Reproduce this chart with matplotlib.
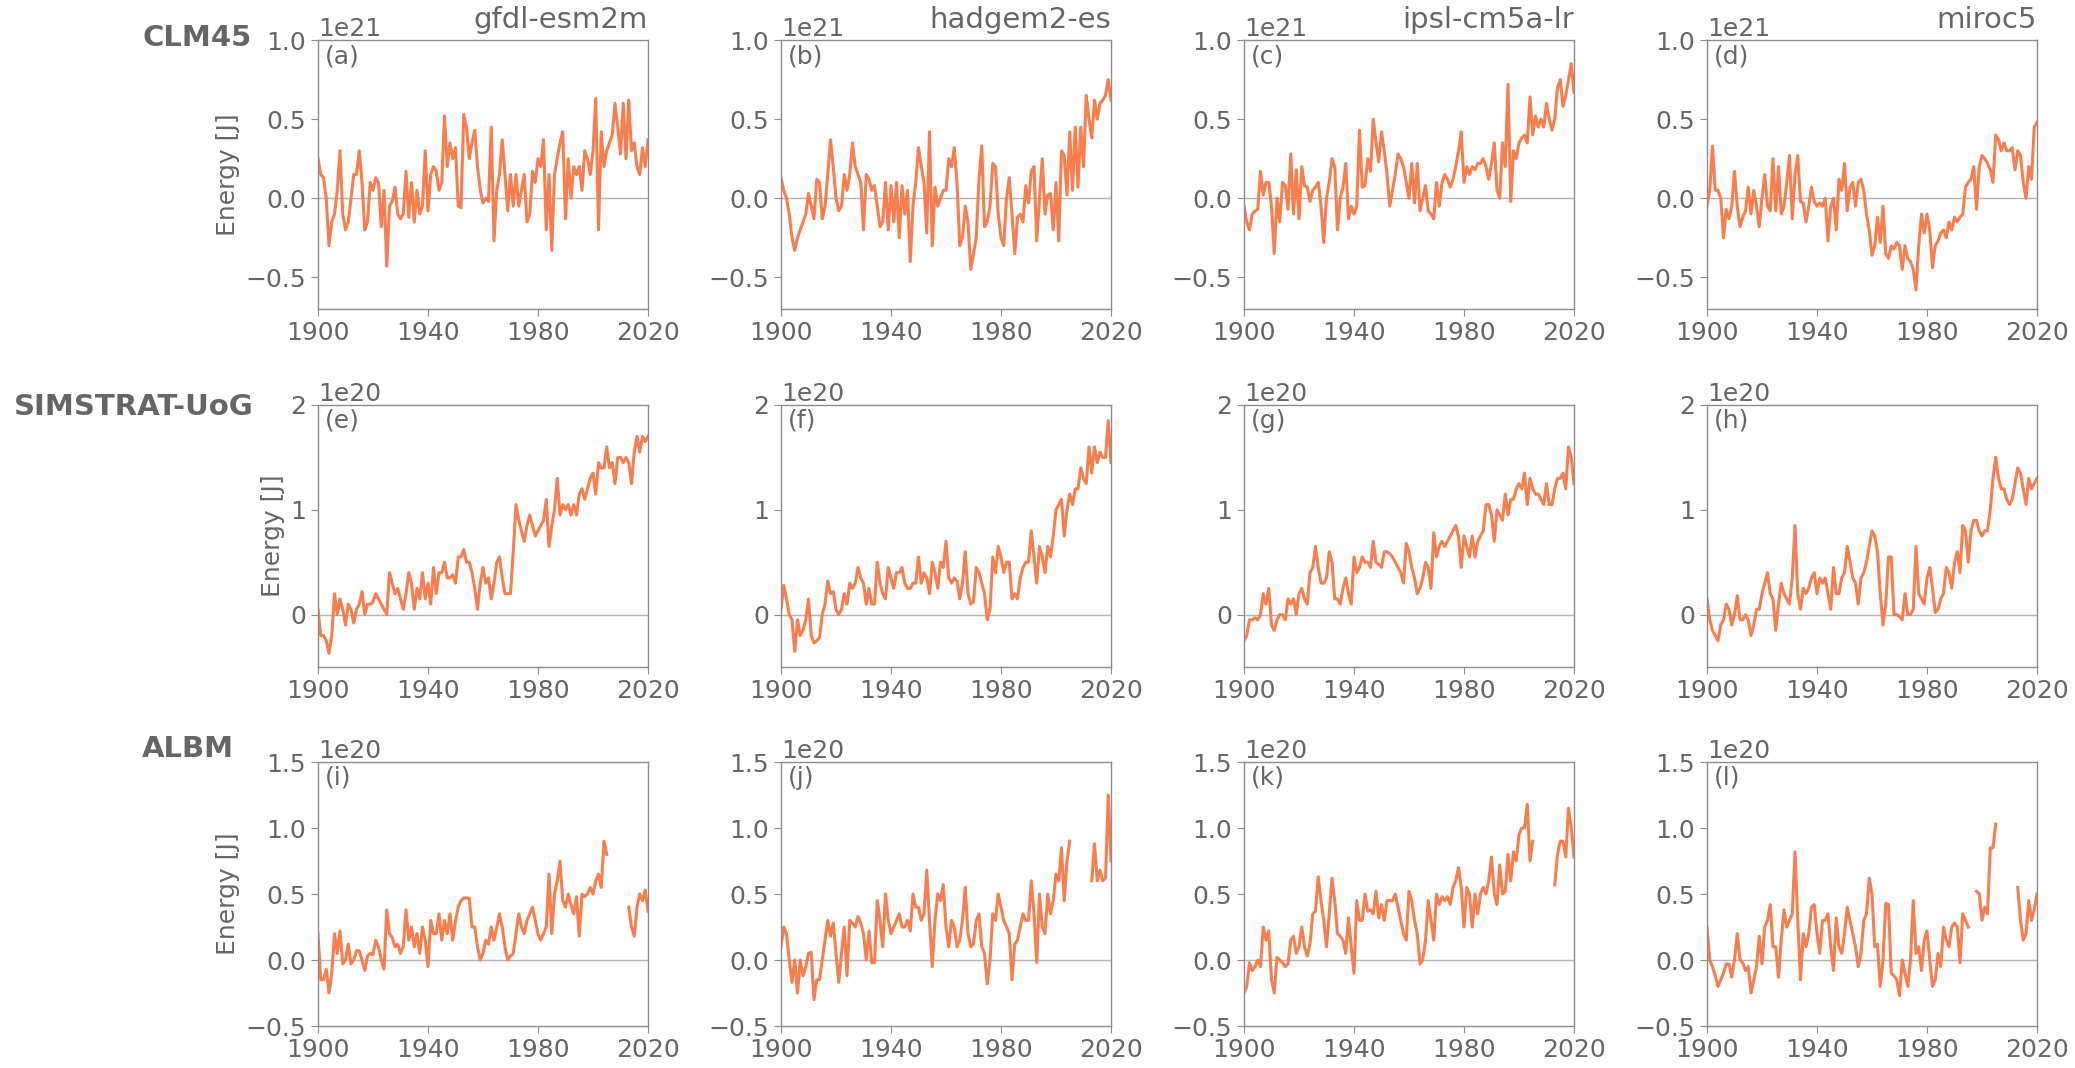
import numpy as np
import matplotlib
matplotlib.use("Agg")
import matplotlib.pyplot as plt
from matplotlib.ticker import FixedLocator

nan = np.nan
years = list(range(1900, 2021))
gcms = ["gfdl-esm2m", "hadgem2-es", "ipsl-cm5a-lr", "miroc5"]
models = ["CLM45", "SIMSTRAT-UoG", "ALBM"]
panel_letters = list("abcdefghijkl")
scales = [1e21, 1e20, 1e20]

# ---------- CLM45 (x1e21 J) ----------
clm45_gfdl = [0.25, 0.15, 0.13, 0.0, -0.3, -0.15, -0.1, 0.05, 0.3, -0.1,
              -0.2, -0.15, 0.0, 0.15, 0.15, 0.3, 0.1, -0.2, -0.15, 0.1,
              0.05, 0.13, 0.1, -0.18, 0.05, -0.43, -0.05, -0.02, 0.07, -0.1,
              -0.13, -0.1, 0.17, -0.12, 0.1, -0.15, 0.05, -0.1, -0.05, 0.3,
              -0.08, 0.15, 0.2, 0.17, 0.05, 0.1, 0.52, 0.2, 0.35, 0.25,
              0.32, -0.05, -0.06, 0.53, 0.45, 0.25, 0.35, 0.43, 0.2, 0.05,
              -0.03, 0.0, -0.02, 0.45, -0.27, 0.05, 0.15, 0.37, 0.15, -0.08,
              0.15, -0.05, 0.15, -0.05, 0.05, 0.15, -0.15, -0.1, 0.17, 0.1,
              0.25, 0.2, 0.37, -0.2, 0.15, -0.33, 0.15, 0.25, 0.35, 0.42,
              -0.13, 0.25, 0.0, 0.2, 0.15, 0.2, 0.05, 0.3, 0.25, 0.15,
              0.3, 0.63, -0.2, 0.42, 0.2, 0.3, 0.35, 0.4, 0.6, 0.45,
              0.28, 0.6, 0.25, 0.62, 0.3, 0.35, 0.2, 0.15, 0.32, 0.2,
              0.37]
clm45_hadgem = [0.13, 0.05, 0.0, -0.1, -0.25, -0.33, -0.25, -0.2, -0.15, -0.1,
                0.03, -0.05, -0.13, 0.12, 0.1, -0.13, -0.05, 0.15, 0.37, 0.2,
                0.0, -0.08, -0.05, 0.15, 0.05, 0.15, 0.35, 0.2, 0.15, 0.1,
                -0.2, 0.15, 0.12, 0.05, 0.08, -0.05, -0.18, -0.15, 0.1, -0.2,
                0.08, -0.15, 0.1, -0.25, 0.08, -0.1, 0.05, -0.4, -0.05, 0.1,
                0.32, 0.2, 0.1, -0.22, 0.42, -0.3, 0.07, -0.05, 0.0, 0.05,
                0.05, 0.25, 0.2, 0.32, 0.1, -0.3, -0.25, -0.05, -0.15, -0.45,
                -0.35, -0.25, 0.12, 0.33, -0.18, -0.15, -0.05, 0.22, 0.2, -0.1,
                -0.25, -0.3, 0.0, 0.13, -0.1, -0.35, -0.12, -0.1, -0.15, 0.08,
                -0.03, 0.17, 0.2, -0.27, 0.0, 0.25, -0.1, 0.02, 0.03, -0.2,
                0.1, -0.27, 0.3, 0.27, 0.02, 0.42, 0.05, 0.45, 0.07, 0.45,
                0.2, 0.65, 0.5, 0.38, 0.62, 0.5, 0.6, 0.62, 0.65, 0.75,
                0.62]
clm45_ipsl = [-0.05, -0.15, -0.2, -0.1, -0.08, -0.07, 0.17, 0.02, 0.1, 0.1,
              -0.05, -0.35, 0.0, -0.15, 0.1, 0.08, -0.07, 0.28, -0.1, 0.18,
              -0.13, 0.2, 0.08, 0.07, -0.02, 0.05, 0.07, 0.1, -0.05, -0.28,
              0.0, 0.1, 0.25, 0.2, -0.2, 0.0, 0.07, 0.22, -0.13, -0.05,
              -0.1, -0.05, 0.43, 0.07, 0.08, 0.25, 0.17, 0.5, 0.35, 0.23,
              0.42, 0.3, 0.15, -0.05, 0.05, 0.15, 0.28, 0.25, 0.2, 0.1,
              0.0, 0.22, -0.03, 0.22, -0.08, 0.0, 0.08, -0.08, -0.1, -0.13,
              0.1, -0.05, 0.1, 0.15, 0.12, 0.07, 0.12, 0.2, 0.3, 0.42,
              0.1, 0.2, 0.15, 0.2, 0.18, 0.22, 0.22, 0.25, 0.2, 0.12,
              0.22, 0.35, 0.05, 0.0, 0.35, 0.2, 0.72, -0.02, 0.3, 0.25,
              0.35, 0.38, 0.4, 0.35, 0.64, 0.4, 0.52, 0.45, 0.5, 0.45,
              0.6, 0.5, 0.43, 0.5, 0.7, 0.75, 0.58, 0.65, 0.75, 0.85,
              0.67]
clm45_miroc = [-0.05, 0.05, 0.33, 0.05, 0.05, 0.0, -0.25, -0.07, -0.13, -0.05,
               0.17, -0.05, -0.18, -0.12, -0.08, 0.07, -0.1, 0.05, -0.05, -0.18,
               0.0, 0.15, -0.05, -0.08, 0.25, -0.08, 0.2, -0.1, -0.05, 0.1,
               0.27, -0.13, 0.15, 0.27, -0.02, -0.03, -0.15, -0.05, 0.07, -0.02,
               -0.05, -0.03, -0.05, 0.0, -0.27, -0.05, 0.0, -0.2, 0.12, 0.05,
               0.22, -0.08, 0.07, 0.1, -0.05, 0.1, 0.12, 0.05, -0.1, -0.2,
               -0.36, -0.3, -0.12, -0.28, -0.05, -0.35, -0.38, -0.3, -0.32, -0.28,
               -0.3, -0.45, -0.3, -0.38, -0.4, -0.45, -0.58, -0.3, -0.1, -0.22,
               -0.1, -0.2, -0.44, -0.3, -0.27, -0.22, -0.2, -0.25, -0.15, -0.2,
               -0.12, -0.15, -0.12, -0.1, 0.07, 0.1, 0.12, 0.2, -0.07, 0.2,
               0.27, 0.25, 0.22, 0.18, 0.1, 0.4, 0.37, 0.3, 0.35, 0.3,
               0.3, 0.32, 0.18, 0.3, 0.27, 0.1, 0.0, 0.2, 0.12, 0.45,
               0.48]

# ---------- SIMSTRAT-UoG (x1e20 J) ----------
simstrat_gfdl = [0.05, -0.2, -0.2, -0.25, -0.37, -0.2, 0.2, 0.0, 0.15, 0.05,
                 -0.1, 0.1, 0.05, -0.08, 0.05, 0.1, 0.22, 0.0, 0.1, 0.1,
                 0.12, 0.2, 0.15, 0.1, 0.05, 0.0, 0.4, 0.3, 0.2, 0.25,
                 0.15, 0.05, 0.2, 0.4, 0.3, 0.05, 0.25, 0.15, 0.4, 0.15,
                 0.3, 0.1, 0.45, 0.2, 0.4, 0.4, 0.5, 0.35, 0.35, 0.38,
                 0.3, 0.55, 0.55, 0.62, 0.5, 0.5, 0.4, 0.25, 0.05, 0.3,
                 0.45, 0.3, 0.35, 0.15, 0.3, 0.5, 0.55, 0.35, 0.2, 0.2,
                 0.2, 0.6, 1.05, 0.9, 0.8, 0.7, 0.85, 0.95, 0.85, 0.75,
                 0.8, 0.85, 0.9, 1.1, 0.65, 0.85, 1.0, 1.3, 0.95, 1.05,
                 1.0, 1.05, 0.95, 1.05, 0.95, 1.15, 1.2, 1.1, 1.2, 1.3,
                 1.35, 1.15, 1.45, 1.4, 1.4, 1.6, 1.4, 1.45, 1.25, 1.5,
                 1.5, 1.45, 1.5, 1.45, 1.25, 1.55, 1.7, 1.55, 1.7, 1.65,
                 1.7]
simstrat_hadgem = [0.05, 0.28, 0.15, 0.0, -0.05, -0.35, -0.05, -0.2, -0.15, -0.05,
                   0.15, -0.2, -0.27, -0.25, -0.22, 0.0, 0.1, 0.32, 0.2, 0.22,
                   0.05, 0.0, 0.05, 0.2, 0.1, 0.3, 0.25, 0.3, 0.45, 0.35,
                   0.3, 0.1, 0.25, 0.1, 0.1, 0.5, 0.3, 0.2, 0.15, 0.45,
                   0.35, 0.25, 0.4, 0.4, 0.45, 0.3, 0.25, 0.25, 0.3, 0.3,
                   0.55, 0.3, 0.4, 0.35, 0.2, 0.5, 0.4, 0.25, 0.5, 0.45,
                   0.7, 0.35, 0.3, 0.35, 0.32, 0.15, 0.3, 0.6, 0.2, 0.1,
                   0.12, 0.45, 0.4, 0.3, 0.2, -0.05, 0.05, 0.55, 0.4, 0.65,
                   0.55, 0.4, 0.5, 0.5, 0.15, 0.2, 0.15, 0.35, 0.45, 0.5,
                   0.5, 0.8, 0.55, 0.3, 0.65, 0.55, 0.4, 0.65, 0.55, 0.75,
                   1.0, 1.05, 1.1, 0.75, 1.0, 1.15, 1.05, 1.2, 1.2, 1.4,
                   1.3, 1.25, 1.6, 1.35, 1.6, 1.45, 1.55, 1.5, 1.5, 1.85,
                   1.45]
simstrat_ipsl = [-0.25, -0.2, -0.05, -0.05, -0.03, -0.05, 0.0, 0.2, 0.1, 0.25,
                 -0.1, -0.15, -0.05, 0.0, 0.0, -0.05, 0.15, 0.1, 0.15, 0.0,
                 0.2, 0.25, 0.15, 0.1, 0.4, 0.45, 0.65, 0.45, 0.3, 0.3,
                 0.35, 0.6, 0.5, 0.15, 0.15, 0.1, 0.25, 0.35, 0.2, 0.1,
                 0.55, 0.4, 0.45, 0.55, 0.5, 0.5, 0.45, 0.7, 0.5, 0.48,
                 0.45, 0.6, 0.6, 0.58, 0.55, 0.5, 0.45, 0.4, 0.3, 0.68,
                 0.6, 0.45, 0.35, 0.2, 0.25, 0.35, 0.5, 0.45, 0.25, 0.78,
                 0.55, 0.65, 0.7, 0.65, 0.7, 0.75, 0.8, 0.85, 0.75, 0.45,
                 0.75, 0.65, 0.55, 0.75, 0.55, 0.7, 0.75, 0.8, 1.05, 1.05,
                 0.95, 0.7, 1.0, 0.95, 0.9, 1.15, 0.95, 1.1, 1.1, 1.2,
                 1.25, 1.2, 1.35, 1.05, 1.3, 1.2, 1.15, 1.15, 1.1, 1.05,
                 1.25, 1.05, 1.05, 1.2, 1.3, 1.3, 1.35, 1.2, 1.6, 1.5,
                 1.25]
simstrat_miroc = [0.15, -0.05, -0.15, -0.2, -0.25, -0.1, -0.05, 0.1, 0.05, -0.1,
                  0.0, 0.18, -0.05, -0.05, 0.0, -0.05, -0.2, -0.1, 0.05, 0.05,
                  0.2, 0.3, 0.4, 0.2, 0.15, -0.15, 0.1, 0.3, 0.2, 0.15,
                  0.1, 0.35, 0.85, 0.2, 0.05, 0.25, 0.2, 0.25, 0.35, 0.4,
                  0.2, 0.35, 0.3, 0.35, 0.2, 0.05, 0.45, 0.2, 0.2, 0.35,
                  0.4, 0.65, 0.5, 0.35, 0.3, 0.1, 0.35, 0.4, 0.5, 0.65,
                  0.8, 0.75, 0.6, 0.2, -0.1, 0.1, 0.55, 0.55, 0.0, 0.0,
                  -0.02, -0.05, 0.2, 0.0, 0.0, 0.05, 0.65, 0.2, 0.15, 0.1,
                  0.35, 0.45, 0.25, 0.02, 0.05, 0.15, 0.2, 0.45, 0.4, 0.25,
                  0.5, 0.6, 0.4, 0.85, 0.8, 0.5, 0.8, 0.9, 0.9, 0.8,
                  0.75, 0.8, 0.8, 1.0, 1.3, 1.5, 1.3, 1.2, 1.2, 1.1,
                  1.05, 1.1, 1.25, 1.4, 1.35, 1.2, 1.05, 1.3, 1.2, 1.25,
                  1.3]

# ---------- ALBM (x1e20 J) ----------
albm_gfdl = [0.2, -0.15, -0.15, -0.07, -0.25, -0.1, 0.2, 0.05, 0.22, -0.03,
             0.0, 0.12, -0.03, 0.0, 0.07, 0.07, 0.0, -0.08, 0.03, 0.05,
             0.04, 0.15, 0.1, 0.0, -0.07, 0.38, 0.2, 0.17, 0.1, 0.12,
             0.05, 0.1, 0.38, 0.15, 0.25, 0.1, 0.2, 0.05, 0.25, 0.15,
             -0.05, 0.3, 0.2, 0.2, 0.35, 0.15, 0.3, 0.2, 0.35, 0.15,
             0.3, 0.4, 0.45, 0.47, 0.47, 0.47, 0.25, 0.25, 0.1, 0.0,
             0.05, 0.15, 0.12, 0.25, 0.15, 0.25, 0.35, 0.25, 0.1, 0.0,
             0.03, 0.05, 0.2, 0.35, 0.25, 0.2, 0.3, 0.35, 0.4, 0.3,
             0.2, 0.15, 0.2, 0.25, 0.65, 0.2, 0.5, 0.6, 0.75, 0.45,
             0.4, 0.5, 0.42, 0.35, 0.48, 0.18, 0.5, 0.48, 0.5, 0.55,
             0.5, 0.6, 0.65, 0.55, 0.9, 0.8, nan, nan, nan, nan,
             nan, nan, nan, 0.4, 0.25, 0.18, 0.4, 0.5, 0.45, 0.53,
             0.37]
albm_hadgem = [0.1, 0.25, 0.2, 0.0, -0.17, 0.0, -0.25, 0.0, -0.12, -0.05,
               0.05, 0.06, -0.3, -0.15, -0.15, 0.0, 0.15, 0.3, 0.18, 0.28,
               0.05, -0.17, 0.05, 0.25, -0.12, 0.3, 0.28, 0.25, 0.33, 0.28,
               0.2, 0.0, 0.22, -0.02, -0.02, 0.45, 0.3, 0.1, 0.5, 0.3,
               0.2, 0.25, 0.3, 0.35, 0.25, 0.25, 0.3, 0.22, 0.5, 0.4,
               0.4, 0.3, 0.35, 0.68, 0.3, -0.05, 0.3, 0.5, 0.45, 0.57,
               0.25, 0.1, 0.3, 0.25, 0.1, 0.15, 0.3, 0.55, 0.2, 0.1,
               0.12, 0.3, 0.35, 0.1, 0.05, -0.18, 0.0, 0.35, 0.3, 0.5,
               0.4, 0.3, 0.25, 0.2, -0.15, 0.12, 0.15, 0.25, 0.35, 0.3,
               0.3, 0.6, 0.35, -0.02, 0.5, 0.25, 0.2, 0.5, 0.35, 0.45,
               0.65, 0.6, 0.85, 0.45, 0.75, 0.9, nan, nan, nan, nan,
               nan, nan, nan, 0.6, 0.88, 0.6, 0.68, 0.6, 0.62, 1.25,
               0.75]
albm_ipsl = [-0.25, -0.2, -0.02, -0.08, -0.05, 0.0, -0.05, 0.25, 0.15, 0.22,
             -0.15, -0.25, 0.02, 0.0, -0.02, -0.05, -0.03, 0.15, 0.18, 0.05,
             0.1, 0.25, 0.1, 0.03, 0.12, 0.35, 0.37, 0.63, 0.45, 0.3,
             0.1, 0.35, 0.62, 0.45, 0.2, 0.18, 0.15, 0.05, 0.32, 0.1,
             -0.1, 0.45, 0.3, 0.3, 0.5, 0.37, 0.38, 0.35, 0.52, 0.32,
             0.42, 0.3, 0.45, 0.45, 0.45, 0.5, 0.4, 0.3, 0.2, 0.15,
             0.52, 0.45, 0.3, 0.2, -0.03, 0.0, 0.15, 0.45, 0.3, 0.15,
             0.5, 0.42, 0.48, 0.45, 0.48, 0.42, 0.55, 0.6, 0.7, 0.55,
             0.25, 0.55, 0.5, 0.25, 0.5, 0.35, 0.5, 0.55, 0.5, 0.6,
             0.78, 0.5, 0.42, 0.72, 0.5, 0.52, 0.8, 0.6, 0.82, 0.75,
             0.95, 1.0, 1.0, 1.18, 0.75, 0.9, nan, nan, nan, nan,
             nan, nan, nan, 0.57, 0.8, 0.9, 0.9, 0.78, 1.15, 1.0,
             0.78]
albm_miroc = [0.25, 0.0, -0.05, -0.12, -0.2, -0.15, -0.1, -0.03, -0.03, -0.13,
              0.0, 0.2, 0.0, -0.02, -0.08, -0.05, -0.25, -0.15, -0.05, 0.18,
              -0.03, 0.25, 0.3, 0.42, 0.1, 0.1, -0.13, 0.15, 0.38, 0.25,
              0.3, 0.35, 0.82, 0.3, -0.15, 0.2, 0.1, 0.2, 0.4, 0.42,
              0.2, 0.05, 0.3, 0.3, 0.35, 0.1, -0.08, 0.32, 0.1, 0.05,
              0.2, 0.4, 0.3, 0.2, 0.1, -0.05, 0.05, 0.3, 0.35, 0.62,
              0.5, 0.1, 0.12, -0.2, 0.0, 0.43, 0.42, -0.1, -0.12, -0.15,
              -0.27, 0.0, -0.1, -0.2, 0.0, 0.45, 0.05, 0.1, -0.08, 0.15,
              0.22, 0.0, -0.2, -0.15, 0.05, -0.05, 0.25, 0.15, 0.1, 0.25,
              0.28, 0.25, -0.02, 0.35, 0.3, 0.25, nan, nan, 0.52, 0.5,
              0.3, 0.4, 0.35, 0.85, 0.85, 1.03, nan, nan, nan, nan,
              nan, nan, nan, 0.55, 0.3, 0.15, 0.2, 0.45, 0.3, 0.38,
              0.5]

series = [[clm45_gfdl, clm45_hadgem, clm45_ipsl, clm45_miroc],
          [simstrat_gfdl, simstrat_hadgem, simstrat_ipsl, simstrat_miroc],
          [albm_gfdl, albm_hadgem, albm_ipsl, albm_miroc]]
ylims = [(-0.7, 1.0), (-0.5, 2.0), (-0.5, 1.5)]
yticks = [[-0.5, 0.0, 0.5, 1.0], [0, 1, 2], [-0.5, 0.0, 0.5, 1.0, 1.5]]
xticks = [1900, 1940, 1980, 2020]

TXT = "#666666"
SPINE = "#8c8c8c"
LINE = "#fa7d4d"

plt.rcParams.update({
    "font.family": ["DejaVu Sans"],
    "text.color": TXT,
    "axes.labelcolor": TXT,
    "xtick.color": SPINE,
    "ytick.color": SPINE,
    "xtick.labelcolor": TXT,
    "ytick.labelcolor": TXT,
    "axes.edgecolor": SPINE,
    "xtick.labelsize": 18,
    "ytick.labelsize": 18,
    "xtick.major.size": 5,
    "ytick.major.size": 5,
})

W, H = 2075, 1068
fig = plt.figure(figsize=(W / 100, H / 100), dpi=100)

lefts = [318, 781, 1244, 1707]
aw = 330
tops = [40, 405, 762]
heights = [269, 262, 264]

for r in range(3):
    for c in range(4):
        x0 = lefts[c] / W
        y0 = 1 - (tops[r] + heights[r]) / H
        ax = fig.add_axes([x0, y0, aw / W, heights[r] / H])
        vals = np.array(series[r][c], dtype=float) * scales[r]
        ax.axhline(0, color="#b5b5b5", lw=1.0, zorder=1)
        ax.plot(years, vals, color=LINE, lw=2.2, zorder=2)
        ax.set_xlim(1900, 2020)
        ax.set_ylim(ylims[r][0] * scales[r], ylims[r][1] * scales[r])
        ax.yaxis.set_major_locator(FixedLocator([t * scales[r] for t in yticks[r]]))
        ax.set_xticks(xticks)
        ax.yaxis.get_offset_text().set_fontsize(18)
        ax.yaxis.get_offset_text().set_color(TXT)
        for s in ax.spines.values():
            s.set_color(SPINE)
            s.set_linewidth(1.0)
        ax.text(0.022, 0.985, "(" + panel_letters[r * 4 + c] + ")",
                transform=ax.transAxes, ha="left", va="top", fontsize=18, color=TXT)
        if c == 0:
            ax.set_ylabel("Energy [J]", fontsize=18, color=TXT)
        if r == 0:
            ax.set_title(gcms[c], loc="right", fontsize=21, color=TXT, pad=9)

row_label_pos = [(142, 38), (14, 407), (142, 749)]
for r in range(3):
    fig.text(row_label_pos[r][0] / W, 1 - row_label_pos[r][1] / H, models[r],
             fontsize=21, fontweight="bold", color=TXT, ha="left", va="center")

fig.savefig("out.png", dpi=100, facecolor="white")
